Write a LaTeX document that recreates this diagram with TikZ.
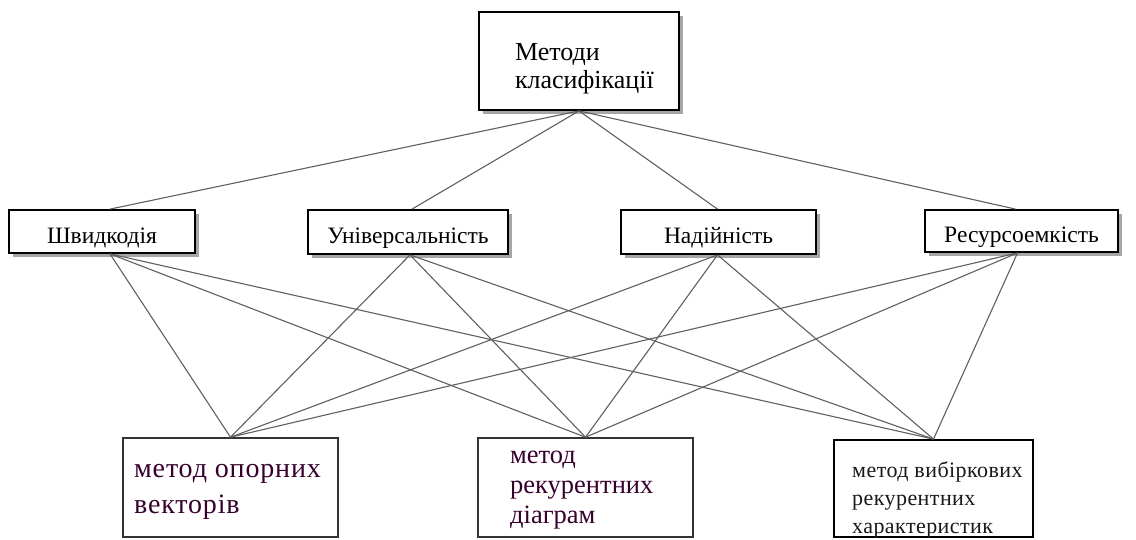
\documentclass[tikz,border=0pt]{standalone}
\usepackage{fontspec}
\setmainfont{Liberation Serif}
\newfontfamily\spacedA[LetterSpace=3]{Liberation Serif}
\newfontfamily\spacedB[LetterSpace=2]{Liberation Serif}
\usetikzlibrary{shadows}
\definecolor{linkgray}{RGB}{95,95,95}
\definecolor{methodink}{RGB}{55,0,45}
\tikzset{
  shadowbox/.style={draw=black, line width=1.8pt, fill=white, inner sep=0pt,
    drop shadow={shadow xshift=4pt, shadow yshift=-4pt, fill=black!35, opacity=1}},
  critbox/.style={shadowbox, font=\fontsize{23.5}{27}\selectfont,
    text height=23pt, text depth=0pt},
  methodbox/.style={draw=black!80, line width=1.6pt, fill=white, inner sep=0pt},
  methodtext/.style={anchor=base west, align=left, inner sep=0pt},
  link/.style={draw=linkgray, line width=1.1pt},
}
\begin{document}
\begin{tikzpicture}[x=1pt,y=-1pt]
\useasboundingbox (0,0) rectangle (1136,539);

% root
\node[shadowbox, minimum width=200pt, minimum height=98pt, align=left,
      text width=128pt, inner xsep=36pt, text height=20pt, text depth=22pt,
      font=\fontsize{26}{28}\selectfont] (root) at (579,61) {Методи\\класифікації};

% criteria
\node[critbox, minimum width=186pt, minimum height=43pt] (speed) at (102,231.5) {Швидкодія};
\node[critbox, minimum width=200pt, minimum height=44pt] (univ) at (408,232) {Універсальність};
\node[critbox, minimum width=195pt, minimum height=44pt] (rel) at (718.5,232) {Надійність};
\node[critbox, minimum width=193pt, minimum height=42pt] (res) at (1021.5,231) {Ресурсоемкість};

% methods
\node[methodbox, minimum width=215pt, minimum height=99pt] (svm) at (230.5,487.5) {};
\node[methodbox, minimum width=215pt, minimum height=99pt] (rp) at (585.5,487.5) {};
\node[methodbox, draw=black, line width=1.8pt, minimum width=199pt, minimum height=97pt] (src) at (933.5,488.5) {};

\node[methodtext, text=methodink, font=\fontsize{28}{36}\spacedA] (svmtext) at (134,513) {метод опорних\\векторів};
\node[methodtext, text=methodink, font=\fontsize{26.5}{30}\selectfont] (rptext) at (510,523) {метод\\рекурентних\\діаграм};
\node[methodtext, text=black!90, font=\fontsize{22}{28}\spacedB] (srctext) at (852,533) {метод вибіркових\\рекурентних\\характеристик};

% root to criteria
\draw[link] (root.south) -- ([xshift=8pt]speed.north);
\draw[link] (root.south) -- ([xshift=4pt]univ.north);
\draw[link] (root.south) -- ([xshift=-1pt]rel.north);
\draw[link] (root.south) -- ([xshift=-6pt]res.north);

% criteria to methods
\foreach \c/\dx in {speed/8, univ/2, rel/-1, res/-4} {
  \foreach \m in {svm, rp, src} {
    \draw[link] ([xshift=\dx pt]\c.south) -- (\m.north);
  }
}
\end{tikzpicture}
\end{document}
